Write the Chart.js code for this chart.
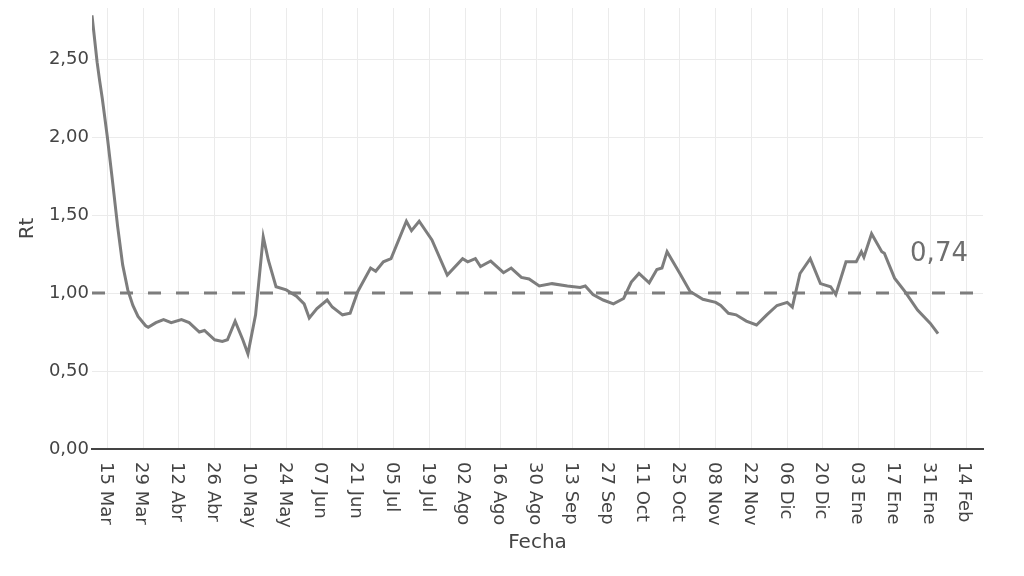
<!DOCTYPE html>
<html>
<head>
<meta charset="utf-8">
<script src="https://cdn.jsdelivr.net/npm/chart.js@4"></script>
<style>
  html, body { margin: 0; padding: 0; background: #fff; }
  #wrap { width: 1024px; height: 576px; }
</style>
</head>
<body>
<div id="wrap"><canvas id="rtChart"></canvas></div>
<script>
// Rt estimate
const dates = [
  '2020-03-09', '2020-03-11', '2020-03-12', '2020-03-13', '2020-03-15', '2020-03-17', '2020-03-19', '2020-03-21',
  '2020-03-23', '2020-03-25', '2020-03-27', '2020-03-30', '2020-03-31', '2020-04-03', '2020-04-06', '2020-04-09',
  '2020-04-13', '2020-04-16', '2020-04-20', '2020-04-22', '2020-04-26', '2020-04-29', '2020-05-01', '2020-05-04',
  '2020-05-07', '2020-05-09', '2020-05-12', '2020-05-15', '2020-05-17', '2020-05-20', '2020-05-24', '2020-05-28',
  '2020-05-31', '2020-06-02', '2020-06-05', '2020-06-09', '2020-06-11', '2020-06-15', '2020-06-18', '2020-06-21',
  '2020-06-22', '2020-06-26', '2020-06-28', '2020-07-01', '2020-07-04', '2020-07-10', '2020-07-12', '2020-07-15',
  '2020-07-20', '2020-07-26', '2020-08-01', '2020-08-03', '2020-08-06', '2020-08-08', '2020-08-12', '2020-08-17',
  '2020-08-20', '2020-08-24', '2020-08-27', '2020-08-31', '2020-09-05', '2020-09-11', '2020-09-16', '2020-09-18',
  '2020-09-21', '2020-09-25', '2020-09-29', '2020-10-03', '2020-10-06', '2020-10-09', '2020-10-13', '2020-10-16',
  '2020-10-18', '2020-10-20', '2020-10-25', '2020-10-29', '2020-11-03', '2020-11-08', '2020-11-10', '2020-11-13',
  '2020-11-16', '2020-11-20', '2020-11-24', '2020-11-28', '2020-12-02', '2020-12-06', '2020-12-08', '2020-12-11',
  '2020-12-15', '2020-12-19', '2020-12-23', '2020-12-25', '2020-12-29', '2021-01-02', '2021-01-04', '2021-01-05',
  '2021-01-08', '2021-01-12', '2021-01-13', '2021-01-17', '2021-01-21', '2021-01-26', '2021-01-31', '2021-02-03'
];
const rtValues = [
  2.78, 2.48, 2.36, 2.25, 2.00, 1.72, 1.43, 1.18,
  1.02, 0.92, 0.85, 0.79, 0.78, 0.81, 0.83, 0.81,
  0.83, 0.81, 0.75, 0.76, 0.70, 0.69, 0.70, 0.82,
  0.70, 0.61, 0.86, 1.36, 1.21, 1.04, 1.02, 0.98,
  0.93, 0.84, 0.90, 0.955, 0.91, 0.86, 0.87, 1.01,
  1.04, 1.16, 1.14, 1.20, 1.22, 1.46, 1.40, 1.46,
  1.34, 1.115, 1.22, 1.20, 1.22, 1.17, 1.205, 1.13,
  1.16, 1.10, 1.09, 1.045, 1.06, 1.045, 1.035, 1.045,
  0.99, 0.955, 0.93, 0.965, 1.07, 1.125, 1.065, 1.15,
  1.16, 1.265, 1.125, 1.01, 0.96, 0.94, 0.92, 0.87,
  0.86, 0.82, 0.795, 0.86, 0.92, 0.94, 0.91, 1.125,
  1.22, 1.06, 1.04, 0.99, 1.20, 1.20, 1.265, 1.23,
  1.38, 1.265, 1.255, 1.095, 1.01, 0.89, 0.805, 0.74
];
const thresholdValue = 1.0;
const tickLabels = [
  '15 Mar', '29 Mar', '12 Abr', '26 Abr', '10 May', '24 May', '07 Jun', '21 Jun', '05 Jul',
  '19 Jul', '02 Ago', '16 Ago', '30 Ago', '13 Sep', '27 Sep', '11 Oct', '25 Oct', '08 Nov',
  '22 Nov', '06 Dic', '20 Dic', '03 Ene', '17 Ene', '31 Ene', '14 Feb'
];
const yTicks = [0, 0.5, 1.0, 1.5, 2.0, 2.5];
const lastLabel = '0,74';

// x axis is days since the first tick date
const tickStart = Date.UTC(2020, 2, 15);
const tickStep = 14;
const dayOf = s => {
  const [y, m, d] = s.split('-').map(Number);
  return Math.round((Date.UTC(y, m - 1, d) - tickStart) / 86400000);
};
const xMin = dayOf(dates[0]);
const xMax = 342.6;

const FONT = "'DejaVu Sans', Verdana, sans-serif";
const GRAY = '#7d7d7d';
const TEXT = '#444';

const rtPoints = dates.map((d, i) => ({ x: dayOf(d), y: rtValues[i] }));

// rotated date labels (top to bottom) and the last-value note
const labelPlugin = {
  id: 'labels',
  afterDraw(chart) {
    const { ctx, scales: { x, y } } = chart;
    ctx.save();
    ctx.fillStyle = TEXT;
    ctx.font = '18px ' + FONT;
    ctx.textAlign = 'left';
    ctx.textBaseline = 'middle';
    tickLabels.forEach((lab, i) => {
      const px = x.getPixelForValue(i * tickStep) - 2;
      ctx.save();
      ctx.translate(px, y.bottom + 13);
      ctx.rotate(Math.PI / 2);
      ctx.fillText(lab, 0, 0);
      ctx.restore();
    });
    const last = rtPoints[rtPoints.length - 1];
    ctx.fillStyle = '#6e6e6e';
    ctx.font = '26px ' + FONT;
    ctx.textAlign = 'center';
    ctx.fillText(lastLabel, x.getPixelForValue(last.x) + 1, y.getPixelForValue(1.25));
    ctx.restore();
  }
};

const ctx = document.getElementById('rtChart').getContext('2d');
new Chart(ctx, {
  type: 'line',
  data: {
    datasets: [
      {
        data: rtPoints,
        borderColor: GRAY,
        borderWidth: 3,
        pointRadius: 0,
        tension: 0
      },
      {
        data: [{ x: xMin, y: thresholdValue }, { x: xMax, y: thresholdValue }],
        borderColor: GRAY,
        borderWidth: 3,
        borderDash: [13, 15],
        pointRadius: 0
      }
    ]
  },
  options: {
    responsive: true,
    maintainAspectRatio: false,
    animation: false,
    layout: { padding: { top: 8, right: 41, left: 0, bottom: 0 } },
    plugins: { legend: { display: false }, tooltip: { enabled: false } },
    scales: {
      x: {
        type: 'linear',
        min: xMin,
        max: xMax,
        afterBuildTicks: s => { s.ticks = tickLabels.map((_, i) => ({ value: i * tickStep })); },
        afterFit: s => { s.height = 127; },
        ticks: { display: false },
        grid: { color: '#ebebeb', lineWidth: 1, drawTicks: false },
        border: { display: true, color: TEXT, width: 2 },
        title: {
          display: true,
          text: 'Fecha',
          color: TEXT,
          font: { family: FONT, size: 20 },
          padding: { top: 0, bottom: 21 }
        }
      },
      y: {
        min: 0,
        max: 2.827,
        afterBuildTicks: s => { s.ticks = yTicks.map(v => ({ value: v })); },
        afterFit: s => { s.width = 92; s.paddingTop = 0; },
        ticks: {
          color: TEXT,
          padding: 3,
          font: { family: FONT, size: 18 },
          callback: v => v.toFixed(2).replace('.', ',')
        },
        grid: { color: '#ebebeb', lineWidth: 1, drawTicks: false },
        border: { display: false },
        title: {
          display: true,
          text: 'Rt',
          color: TEXT,
          font: { family: FONT, size: 20 },
          padding: { top: 16, bottom: 0 }
        }
      }
    }
  },
  plugins: [labelPlugin]
});
</script>
</body>
</html>
